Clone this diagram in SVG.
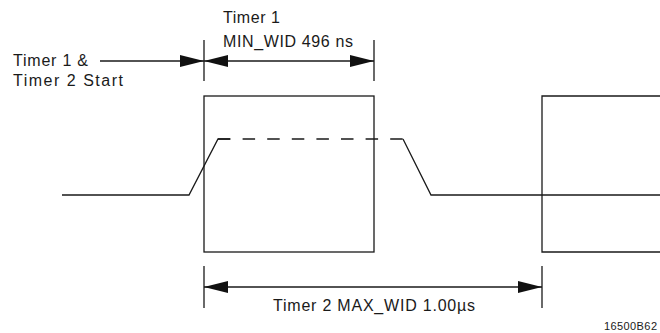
<svg xmlns="http://www.w3.org/2000/svg" width="660" height="333" viewBox="0 0 660 333">
<defs>
<style>
.ln{fill:none;stroke:#1a1a1a;stroke-width:1.3}
.ah{fill:#111;stroke:none}
.t{font-family:"Liberation Sans",Arial,sans-serif;font-size:16px;fill:#1a1a1a}
.s{font-family:"Liberation Sans",Arial,sans-serif;font-size:11px;fill:#1a1a1a}
</style>
</defs>
<rect width="660" height="333" fill="#fff"/>
<g id="pulse1">
<rect class="ln" x="204" y="96" width="170" height="156"/>
</g>
<g id="pulse2">
<polyline class="ln" points="660,96 542,96 542,252 660,252"/>
</g>
<g id="signal">
<polyline class="ln" points="62,195 189,195 218,139 230,139"/>
<line class="ln" x1="218" y1="139" x2="403" y2="139" stroke-dasharray="12.5 12.1"/>
<polyline class="ln" points="403,139 431,195 660,195"/>
</g>
<g id="connectors">
<line class="ln" x1="204" y1="40" x2="204" y2="81"/>
<line class="ln" x1="374" y1="40" x2="374" y2="81"/>
<line class="ln" x1="100" y1="61" x2="204" y2="61"/>
<polygon class="ah" points="204,61 180,55 180,67"/>
<line class="ln" x1="204" y1="61" x2="374" y2="61"/>
<polygon class="ah" points="204,61 228,55 228,67"/>
<polygon class="ah" points="374,61 350,55 350,67"/>
<line class="ln" x1="204" y1="266" x2="204" y2="308"/>
<line class="ln" x1="542" y1="266" x2="542" y2="308"/>
<line class="ln" x1="204" y1="287" x2="542" y2="287"/>
<polygon class="ah" points="204,287 228,281 228,293"/>
<polygon class="ah" points="542,287 518,281 518,293"/>
</g>
<g id="labels">
<text class="t" x="223" y="23" textLength="57" lengthAdjust="spacing">Timer 1</text>
<text class="t" x="223" y="47" textLength="130" lengthAdjust="spacing">MIN_WID 496 ns</text>
<text class="t" x="13" y="66" textLength="75" lengthAdjust="spacing">Timer 1 &amp;</text>
<text class="t" x="13" y="86" textLength="110" lengthAdjust="spacing">Timer 2 Start</text>
<text class="t" x="273" y="311" textLength="202" lengthAdjust="spacing">Timer 2 MAX_WID 1.00µs</text>
<text class="s" x="604" y="330" textLength="53" lengthAdjust="spacing">16500B62</text>
</g>
</svg>
